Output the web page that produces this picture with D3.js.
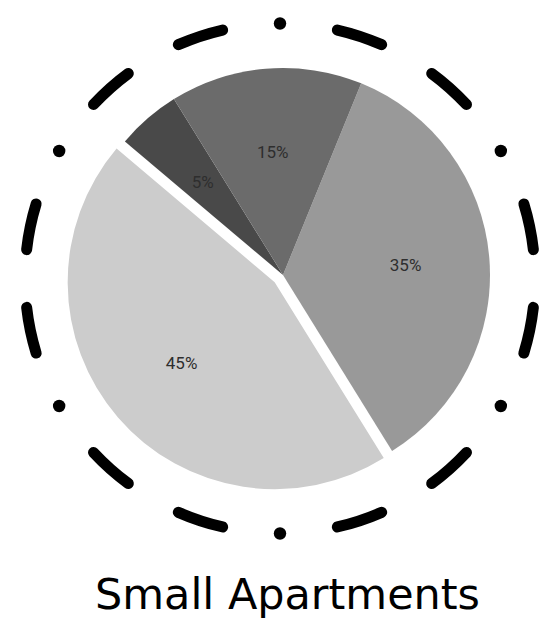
<!DOCTYPE html>
<html>
<head>
<meta charset="utf-8">
<script src="https://cdn.jsdelivr.net/npm/d3@7"></script>
<style>
  body { margin: 0; background: #fff; }
</style>
</head>
<body>
<svg width="543" height="626"></svg>
<script>
// data
var categories = ["A", "B", "C", "D"];
var values = [35, 45, 5, 15];
var labels = ["35%", "45%", "5%", "15%"];
var colors = ["#999999", "#cccccc", "#494949", "#6b6b6b"];
var exploded = [0, 1, 0, 0];
var title = "Small Apartments";

// decorative ring: dots and dashes (degrees clockwise from top), repeated every 60 deg
var ringDots = [0, 60, 120, 180, 240, 300];
var ringDashes = [[13, 23.5], [36.5, 47]];

var svg = d3.select("svg"),
    width = +svg.attr("width"),
    height = +svg.attr("height");

var rad = Math.PI / 180;

// ring
var ringR = 255;
var ring = svg.append("g")
    .attr("transform", "translate(280,278.5)");

var dashData = [];
ringDots.forEach(function(a) {
    ringDashes.forEach(function(d) {
        dashData.push([(a + d[0]) * rad, (a + d[1]) * rad]);
    });
});

// open arc path so the round caps show
function dashPath(d) {
    var p = d3.path();
    // d3.path arc angles are measured from the x axis, so shift by -90deg
    p.moveTo(ringR * Math.sin(d[0]), -ringR * Math.cos(d[0]));
    p.arc(0, 0, ringR, d[0] - Math.PI / 2, d[1] - Math.PI / 2);
    return p.toString();
}

ring.selectAll("path")
    .data(dashData)
    .enter()
    .append("path")
    .attr("d", dashPath)
    .attr("fill", "none")
    .attr("stroke", "#000")
    .attr("stroke-width", 11)
    .attr("stroke-linecap", "round");

ring.selectAll("circle")
    .data(ringDots)
    .enter()
    .append("circle")
    .attr("cx", function(d) { return ringR * Math.sin(d * rad); })
    .attr("cy", function(d) { return -ringR * Math.cos(d * rad); })
    .attr("r", 6.2)
    .attr("fill", "#000");

// pie
var radius = 207;
var explodeDist = 11;
var start = 22.2 * rad;

var pie = d3.pie()
    .value(function(d) { return d; })
    .sort(null)
    .startAngle(start)
    .endAngle(start + 2 * Math.PI);

var arc = d3.arc().innerRadius(0).outerRadius(radius);
var labelArc = d3.arc().innerRadius(123).outerRadius(123);

var pieG = svg.append("g")
    .attr("transform", "translate(283,275)");

var slices = pieG.selectAll("g")
    .data(pie(values))
    .enter()
    .append("g")
    .attr("transform", function(d, i) {
        if (!exploded[i]) return null;
        var mid = (d.startAngle + d.endAngle) / 2;
        return "translate(" + (explodeDist * Math.sin(mid)) + "," + (-explodeDist * Math.cos(mid)) + ")";
    });

slices.append("path")
    .attr("d", arc)
    .attr("fill", function(d, i) { return colors[i]; });

slices.append("text")
    .attr("transform", function(d) { return "translate(" + labelArc.centroid(d) + ")"; })
    .attr("text-anchor", "middle")
    .attr("dy", "0.35em")
    .attr("font-family", "Roboto, 'Noto Sans', sans-serif")
    .attr("font-size", 17)
    .attr("fill", "#2e2e2e")
    .text(function(d, i) { return labels[i]; });

// title
svg.append("text")
    .attr("x", 287.5)
    .attr("y", 609)
    .attr("text-anchor", "middle")
    .attr("font-family", "'DejaVu Sans', sans-serif")
    .attr("font-size", 42)
    .attr("fill", "#000")
    .attr("textLength", 385)
    .attr("lengthAdjust", "spacingAndGlyphs")
    .text(title);
</script>
</body>
</html>
